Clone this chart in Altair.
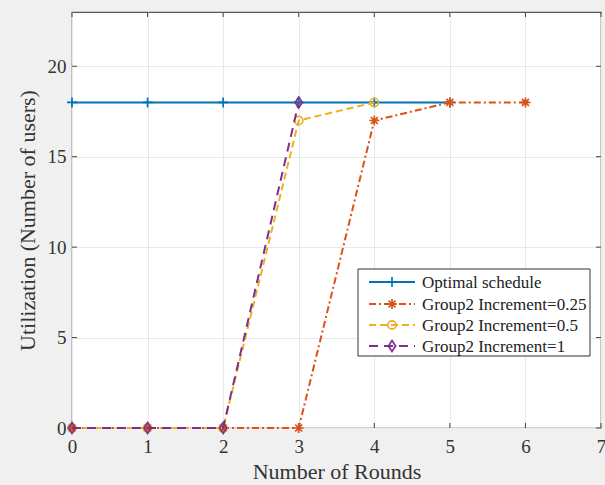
import altair as alt
import pandas as pd

# ---- data ----
series_names = ["Optimal schedule", "Group2 Increment=0.25",
                "Group2 Increment=0.5", "Group2 Increment=1"]
rounds_opt = [0, 1, 2, 3, 4, 5]
util_opt = [18, 18, 18, 18, 18, 18]
rounds_025 = [0, 1, 2, 3, 4, 5, 6]
util_025 = [0, 0, 0, 0, 17, 18, 18]
rounds_05 = [0, 1, 2, 3, 4]
util_05 = [0, 0, 0, 17, 18]
rounds_1 = [0, 1, 2, 3]
util_1 = [0, 0, 0, 18]
x_ticks = [0, 1, 2, 3, 4, 5, 6, 7]
y_ticks = [0, 5, 10, 15, 20]

W, H = 529, 416
FONT = "Liberation Serif"
TXT = "#333333"

PLUS = "M-1,0L1,0M0,-1L0,1"
STAR = "M-1,0L1,0M0,-1L0,1M-0.7,-0.7L0.7,0.7M-0.7,0.7L0.7,-0.7"
DIAM = "M0,-1L0.65,0L0,1L-0.65,0Z"

styles = [
    dict(color="#0072BD", dash=[1, 0], shape=PLUS, size=100),
    dict(color="#D95319", dash=[7, 3, 2, 3], shape=STAR, size=100),
    dict(color="#EDB120", dash=[7, 4], shape="circle", size=70),
    dict(color="#7E2F8E", dash=[9, 6], shape=DIAM, size=120),
]
series_data = [(rounds_opt, util_opt), (rounds_025, util_025),
               (rounds_05, util_05), (rounds_1, util_1)]

xscale = alt.Scale(domain=[0, 7], nice=False, zero=False)
yscale = alt.Scale(domain=[0, 23], nice=False)

axis_common = dict(labelFont=FONT, titleFont=FONT, labelColor=TXT, titleColor=TXT,
                   labelFontSize=19, titleFontSize=22, titleFontWeight="normal",
                   grid=True, gridColor="#e8e8e8", gridWidth=1, domain=False,
                   ticks=False, format="d", labelFlush=False, labelOverlap=False)

layers = []

# axis / grid carrier
grid_df = pd.DataFrame({"x": x_ticks[:5], "y": y_ticks})
base = alt.Chart(grid_df).mark_point(opacity=0).encode(
    x=alt.X("x:Q", scale=xscale,
            axis=alt.Axis(values=x_ticks, title="Number of Rounds",
                          labelPadding=9, titlePadding=5, **axis_common)),
    y=alt.Y("y:Q", scale=yscale,
            axis=alt.Axis(values=y_ticks, title="Utilization (Number of users)",
                          labelPadding=6, titlePadding=8, **axis_common)),
)
layers.append(base)

# inward ticks
xt = pd.DataFrame({"x": x_ticks})
yt = pd.DataFrame({"y": y_ticks})
tick_style = dict(color="#444444", strokeWidth=1)
layers.append(alt.Chart(xt).mark_rule(**tick_style).encode(
    x=alt.X("x:Q", scale=xscale), y=alt.value(H), y2=alt.value(H - 5)))
layers.append(alt.Chart(xt).mark_rule(**tick_style).encode(
    x=alt.X("x:Q", scale=xscale), y=alt.value(0), y2=alt.value(5)))
layers.append(alt.Chart(yt).mark_rule(**tick_style).encode(
    y=alt.Y("y:Q", scale=yscale), x=alt.value(0), x2=alt.value(5)))
layers.append(alt.Chart(yt).mark_rule(**tick_style).encode(
    y=alt.Y("y:Q", scale=yscale), x=alt.value(W), x2=alt.value(W - 5)))

# series
for name, (xs, ys), st in zip(series_names, series_data, styles):
    df = pd.DataFrame({"r": xs, "u": ys, "s": name})
    enc = dict(x=alt.X("r:Q", scale=xscale), y=alt.Y("u:Q", scale=yscale))
    layers.append(alt.Chart(df).mark_line(
        color=st["color"], strokeWidth=2, strokeDash=st["dash"], clip=False
    ).encode(**enc))
    layers.append(alt.Chart(df).mark_point(
        color=st["color"], shape=st["shape"], size=st["size"], filled=False,
        strokeWidth=1.7, opacity=1, clip=False
    ).encode(**enc))

# manual legend
lx0, lx1, ly0, ly1 = 286, 518, 257, 344
box_df = pd.DataFrame({"k": [0]})
layers.append(alt.Chart(box_df).mark_rect(
    fill="white", stroke="#333333", strokeWidth=1
).encode(x=alt.value(lx0), x2=alt.value(lx1), y=alt.value(ly0), y2=alt.value(ly1)))

row_y = [270, 292, 313, 334]
for name, st, ry in zip(series_names, styles, row_y):
    one = pd.DataFrame({"s": [name]})
    layers.append(alt.Chart(one).mark_rule(
        color=st["color"], strokeWidth=2, strokeDash=st["dash"]
    ).encode(x=alt.value(297), x2=alt.value(343), y=alt.value(ry)))
    layers.append(alt.Chart(one).mark_point(
        color=st["color"], shape=st["shape"], size=st["size"], filled=False,
        strokeWidth=1.7, opacity=1
    ).encode(x=alt.value(320), y=alt.value(ry)))
    layers.append(alt.Chart(one).mark_text(
        align="left", baseline="middle", font=FONT, fontSize=17, color="#222222"
    ).encode(x=alt.value(350), y=alt.value(ry + 1), text="s:N"))

chart = alt.layer(*layers).properties(
    width=W, height=H,
    background="#f0f0f0",
    padding={"left": 72, "top": 12, "right": 4, "bottom": 57},
    autosize=alt.AutoSizeParams(type="none"),
).configure_view(fill="white", stroke="#555555", strokeWidth=1.2)

chart.save("out.html", embed_options={"renderer": "svg", "actions": False})
